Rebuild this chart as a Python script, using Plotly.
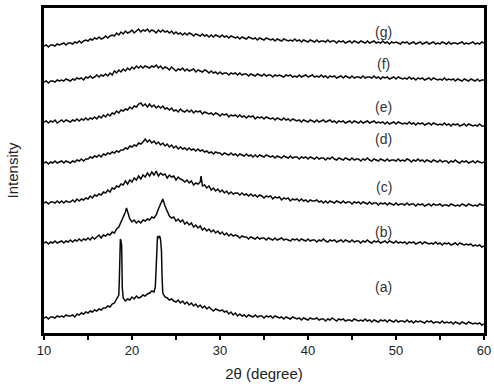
import numpy as np
import plotly.graph_objects as go

# 2-theta grid (degrees), 0.25 deg step from 10 to 60
two_theta = np.round(np.arange(10, 60.0001, 0.25), 2)

# Intensities (a.u., already vertically stacked as in the figure)
a_vals = [15, 16, 14, 16, 16, 15, 17, 16, 17, 16, 18, 17, 17, 18, 16, 19,
          18, 20, 19, 21, 20, 22, 21, 23, 22, 24, 23, 25, 25, 27, 26, 29,
          30, 34, 38, 92, 35, 32, 34, 33, 36, 34, 37, 35, 36, 38, 37, 39,
          40, 42, 41, 70, 95, 93, 40, 36, 35, 33, 34, 32, 31, 33, 30, 32,
          29, 31, 28, 30, 27, 29, 26, 28, 25, 27, 24, 26, 24, 22, 24, 23,
          22, 23, 21, 22, 19, 21, 18, 20, 17, 19, 17, 18, 16, 18, 17, 16,
          18, 16, 17, 17, 15, 17, 16, 17, 15, 17, 16, 15, 16, 14, 16, 15,
          14, 16, 15, 14, 15, 13, 15, 14, 13, 15, 14, 14, 15, 13, 14, 14,
          12, 14, 13, 15, 13, 12, 14, 13, 14, 12, 13, 13, 12, 14, 13, 12,
          13, 12, 14, 12, 13, 11, 13, 12, 11, 13, 12, 13, 11, 13, 12, 11,
          13, 11, 12, 12, 11, 13, 11, 12, 10, 12, 11, 12, 11, 10, 12, 11,
          12, 10, 11, 11, 10, 12, 10, 11, 10, 11, 9, 11, 10, 9, 11, 10,
          9, 11, 10, 9, 10, 9, 10, 8, 9]
a_peak_x = [18.55, 18.62, 18.68, 18.82, 18.9, 22.65, 22.85, 22.9, 23.1, 23.15, 23.35, 23.42]
a_peak_y = [50, 88, 94, 88, 45, 46, 92, 97, 96, 97, 82, 55]

b_vals = [90, 91, 89, 91, 90, 92, 90, 91, 92, 90, 92, 91, 93, 91, 93, 92,
          94, 92, 94, 93, 95, 93, 96, 94, 96, 98, 95, 98, 97, 99, 98, 101,
          100, 104, 106, 111, 115, 121, 121, 114, 111, 113, 110, 112, 110, 113, 112, 114,
          113, 116, 115, 118, 124, 130, 134, 127, 121, 117, 115, 116, 112, 114, 111, 113,
          109, 111, 108, 110, 106, 108, 105, 107, 103, 105, 102, 104, 101, 103, 100, 102,
          99, 101, 98, 100, 97, 99, 97, 98, 97, 95, 97, 96, 96, 94, 96, 95,
          94, 96, 94, 95, 95, 93, 95, 94, 93, 95, 93, 94, 95, 93, 94, 93,
          92, 94, 93, 94, 92, 94, 93, 92, 94, 92, 93, 93, 91, 93, 92, 94,
          92, 91, 93, 92, 93, 91, 92, 93, 91, 93, 92, 91, 93, 91, 92, 92,
          90, 92, 91, 93, 91, 90, 92, 91, 92, 90, 91, 92, 90, 92, 91, 90,
          92, 90, 91, 90, 91, 89, 91, 90, 91, 89, 90, 91, 89, 91, 90, 89,
          90, 89, 91, 89, 90, 88, 90, 89, 90, 88, 89, 90, 88, 90, 89, 88,
          89, 88, 89, 87, 88, 87, 88, 86, 87]
b_peak_x = [19.375]
b_peak_y = [125]

c_vals = [130, 131, 129, 131, 131, 130, 132, 130, 132, 130, 132, 131, 131, 133, 131, 134,
          132, 134, 133, 135, 134, 137, 135, 138, 137, 139, 138, 141, 140, 143, 141, 145,
          144, 147, 146, 149, 148, 152, 149, 153, 151, 155, 153, 157, 154, 158, 156, 160,
          157, 161, 158, 162, 157, 160, 158, 159, 155, 158, 156, 157, 153, 156, 154, 153,
          151, 153, 150, 152, 148, 150, 149, 151, 147, 148, 145, 147, 143, 145, 142, 144,
          141, 143, 140, 142, 139, 141, 139, 140, 140, 138, 140, 138, 139, 137, 139, 137,
          138, 136, 138, 137, 135, 137, 136, 137, 134, 136, 135, 136, 133, 135, 134, 135,
          132, 134, 133, 134, 132, 134, 132, 133, 131, 133, 132, 132, 133, 131, 132, 130,
          132, 130, 132, 131, 130, 132, 131, 130, 132, 130, 131, 131, 129, 131, 130, 131,
          129, 131, 130, 129, 131, 129, 130, 130, 128, 130, 129, 130, 128, 130, 129, 128,
          130, 128, 129, 129, 128, 130, 128, 129, 129, 127, 129, 128, 129, 127, 128, 129,
          127, 129, 128, 128, 129, 127, 128, 128, 127, 129, 128, 127, 128, 127, 129, 128,
          127, 129, 128, 127, 128, 127, 129, 128, 128]
c_peak_x = [27.85, 27.95]
c_peak_y = [157, 148]

d_vals = [170, 171, 169, 171, 170, 172, 170, 171, 172, 170, 172, 171, 170, 172, 171, 173,
          172, 174, 172, 174, 174, 176, 175, 177, 176, 178, 176, 179, 178, 180, 179, 181,
          180, 182, 181, 183, 183, 185, 184, 187, 186, 188, 187, 190, 189, 191, 194, 191,
          193, 190, 192, 189, 191, 188, 190, 187, 189, 186, 188, 185, 187, 184, 186, 184,
          185, 183, 185, 183, 184, 182, 184, 182, 183, 181, 182, 180, 181, 179, 181, 180,
          180, 178, 180, 179, 178, 180, 178, 179, 177, 179, 178, 177, 179, 177, 178, 176,
          178, 176, 178, 177, 176, 178, 177, 176, 177, 175, 177, 176, 175, 177, 176, 175,
          177, 175, 176, 176, 174, 176, 175, 176, 174, 176, 175, 174, 176, 174, 175, 175,
          173, 175, 174, 176, 174, 173, 175, 174, 173, 175, 174, 173, 175, 173, 174, 174,
          172, 174, 173, 175, 173, 172, 174, 173, 172, 174, 173, 172, 174, 172, 173, 173,
          172, 174, 172, 173, 172, 174, 173, 171, 173, 172, 174, 172, 173, 171, 173, 172,
          171, 173, 172, 171, 173, 171, 172, 172, 170, 172, 171, 173, 171, 170, 172, 171,
          172, 170, 171, 172, 170, 172, 171, 170, 171]

e_vals = [211, 212, 210, 212, 211, 213, 210, 212, 213, 211, 213, 212, 211, 213, 212, 214,
          212, 214, 213, 215, 213, 215, 214, 216, 214, 217, 215, 218, 216, 219, 217, 220,
          219, 222, 220, 223, 222, 224, 223, 226, 224, 227, 226, 229, 230, 227, 229, 226,
          229, 226, 228, 225, 227, 225, 227, 224, 225, 223, 225, 222, 223, 221, 224, 222,
          221, 223, 221, 223, 220, 222, 221, 222, 219, 221, 220, 219, 220, 218, 220, 219,
          217, 219, 218, 219, 216, 218, 217, 218, 216, 218, 216, 217, 215, 217, 216, 217,
          214, 216, 215, 216, 214, 216, 215, 214, 215, 213, 215, 214, 213, 215, 213, 214,
          212, 214, 213, 212, 213, 211, 213, 212, 211, 213, 212, 211, 213, 211, 212, 213,
          211, 212, 213, 211, 212, 210, 212, 211, 212, 210, 211, 212, 210, 212, 211, 210,
          212, 210, 211, 212, 210, 211, 212, 210, 211, 210, 211, 209, 211, 209, 210, 211,
          209, 211, 210, 209, 210, 209, 211, 209, 210, 208, 210, 209, 210, 208, 209, 210,
          208, 210, 209, 208, 209, 208, 210, 208, 209, 207, 209, 208, 209, 207, 208, 209,
          207, 209, 208, 207, 208, 207, 209, 207, 207]

f_vals = [251, 252, 250, 252, 252, 251, 253, 252, 253, 252, 254, 253, 252, 254, 253, 255,
          254, 255, 253, 256, 255, 257, 255, 256, 258, 256, 258, 257, 259, 257, 260, 258,
          262, 260, 263, 261, 264, 262, 265, 263, 266, 264, 267, 265, 267, 265, 267, 266,
          265, 267, 266, 268, 265, 267, 264, 266, 265, 263, 266, 264, 262, 264, 263, 265,
          262, 264, 262, 263, 264, 261, 263, 262, 261, 263, 262, 260, 262, 260, 261, 259,
          261, 259, 260, 260, 258, 260, 259, 260, 258, 260, 258, 259, 259, 257, 259, 258,
          257, 259, 258, 257, 259, 257, 258, 258, 256, 258, 257, 258, 257, 256, 258, 257,
          258, 256, 257, 256, 258, 256, 257, 258, 256, 257, 258, 256, 257, 256, 258, 256,
          257, 255, 257, 256, 257, 255, 256, 257, 255, 257, 256, 255, 257, 255, 256, 256,
          255, 257, 255, 256, 256, 255, 257, 255, 256, 254, 256, 255, 256, 254, 255, 256,
          254, 256, 255, 254, 255, 254, 256, 254, 255, 253, 255, 254, 255, 253, 254, 255,
          253, 255, 254, 253, 254, 253, 255, 253, 254, 253, 254, 252, 254, 253, 252, 254,
          253, 252, 254, 253, 252, 254, 252, 253, 253]

g_vals = [287, 288, 286, 288, 288, 287, 289, 288, 289, 290, 288, 290, 290, 289, 291, 290,
          292, 290, 292, 293, 292, 294, 293, 295, 294, 296, 294, 295, 297, 295, 297, 298,
          297, 300, 298, 301, 299, 302, 300, 301, 303, 300, 302, 304, 301, 303, 302, 304,
          301, 303, 302, 300, 303, 301, 303, 301, 302, 300, 302, 299, 301, 299, 300, 298,
          300, 298, 300, 299, 297, 299, 298, 297, 299, 297, 298, 296, 298, 296, 298, 297,
          296, 298, 296, 297, 295, 297, 296, 295, 296, 294, 296, 295, 294, 296, 295, 294,
          295, 293, 295, 294, 293, 295, 294, 293, 294, 292, 294, 293, 292, 294, 293, 292,
          293, 292, 294, 292, 293, 291, 293, 292, 291, 293, 292, 291, 293, 291, 292, 292,
          291, 293, 291, 292, 292, 290, 292, 291, 292, 290, 291, 292, 290, 292, 291, 290,
          292, 291, 290, 292, 290, 291, 292, 290, 291, 290, 292, 290, 291, 289, 291, 290,
          291, 290, 289, 291, 290, 291, 289, 290, 291, 289, 290, 291, 289, 290, 291, 289,
          290, 291, 289, 290, 289, 291, 290, 289, 291, 289, 290, 290, 289, 290, 291, 289,
          290, 289, 290, 291, 289, 290, 289, 291, 290]

labels = ["(a)", "(b)", "(c)", "(d)", "(e)", "(f)", "(g)"]
label_x = 48.6
label_y = [46, 101, 146, 194, 226, 269, 301]

x_ticks = [10, 20, 30, 40, 50, 60]


def merge(vals, extra_x=(), extra_y=()):
    pts = dict(zip(two_theta.tolist(), vals))
    for xx, yy in zip(extra_x, extra_y):
        pts[xx] = yy
    xs = sorted(pts)
    return xs, [pts[k] for k in xs]


series = [
    merge(a_vals, a_peak_x, a_peak_y),
    merge(b_vals, b_peak_x, b_peak_y),
    merge(c_vals, c_peak_x, c_peak_y),
    merge(d_vals),
    merge(e_vals),
    merge(f_vals),
    merge(g_vals),
]

fig = go.Figure()
for (xs, ys), lab in zip(series, labels):
    fig.add_trace(go.Scatter(x=xs, y=ys, mode="lines", name=lab,
                             line=dict(color="#0a0a0a", width=1.5),
                             showlegend=False))

for lab, ly in zip(labels, label_y):
    fig.add_annotation(x=label_x, y=ly, text=lab, showarrow=False,
                       font=dict(family="Arial, Liberation Sans", size=14, color="#333333"))

fig.update_layout(
    width=494, height=384,
    margin=dict(l=44, r=10, t=8, b=51),
    paper_bgcolor="white", plot_bgcolor="white",
    font=dict(family="Arial, Liberation Sans", color="#222222"),
)
fig.update_xaxes(
    range=[10, 60], tickvals=x_ticks, ticks="outside", ticklen=4, tickwidth=2,
    tickcolor="black", showline=True, linecolor="black", linewidth=2.5, mirror=True,
    showgrid=False, zeroline=False, automargin=False,
    tickfont=dict(size=13, color="#222222"),
    minor=dict(dtick=5, tick0=10, ticks="outside", ticklen=4, tickwidth=2, tickcolor="black", showgrid=False),
    title=dict(text="2θ (degree)", font=dict(size=15, color="#222222"), standoff=12),
)
fig.update_yaxes(
    range=[0, 325], showticklabels=False, ticks="", showline=True, linecolor="black",
    linewidth=2.5, mirror=True, showgrid=False, zeroline=False, automargin=False,
    title=dict(text="Intensity", font=dict(size=15, color="#222222"), standoff=20),
)

fig.write_html("out.html")
